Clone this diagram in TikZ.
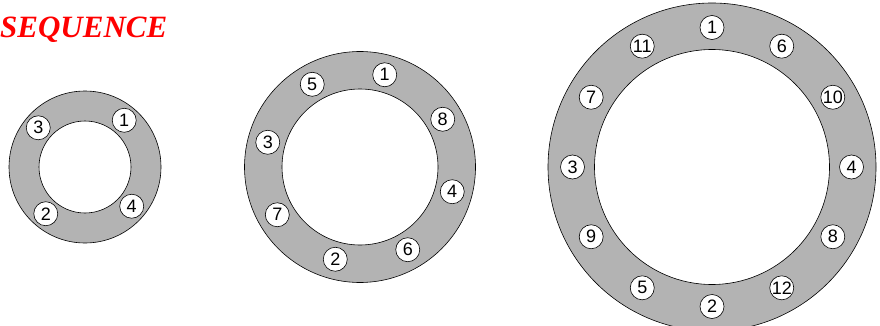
\documentclass[tikz,border=0pt]{standalone}
\usepackage{fontspec}
\setmainfont{Liberation Serif}
\newfontfamily\lsans{Liberation Sans}
\definecolor{ringgray}{RGB}{179,179,179}
\definecolor{titlered}{RGB}{255,0,0}
\begin{document}
\begin{tikzpicture}[x=1pt,y=1pt,
  ring/.style={fill=ringgray, draw=black, line width=0.6pt, even odd rule},
  num/.style={circle, draw=black, fill=white, line width=0.6pt, minimum size=24pt, inner sep=0pt, font=\lsans\fontsize{18}{18}\selectfont},
  titletext/.style={anchor=base west, inner sep=0pt, text=titlered, font=\fontsize{31}{31}\selectfont\bfseries\itshape}]
\useasboundingbox (0,0) rectangle (880,325);
\clip (0,0) rectangle (880,325);
\node[titletext] (title) at (0,287.7) {SEQUENCE};
% centres
\coordinate (c1) at (85,158);
\coordinate (c2) at (360,158);
\coordinate (c3) at (712,158);
% rings
\draw[ring] (c1) circle (76pt) (c1) circle (46pt);
\draw[ring] (c2) circle (115.5pt) (c2) circle (78pt);
\draw[ring] (c3) circle (164pt) (c3) circle (117.5pt);
% ring 1
\foreach \n/\a in {1/50, 3/140, 2/230, 4/320}
  \node[num] (a\n) at ([shift={(\a:61pt)}]c1) {\n};
% ring 2
\foreach \n/\a in {1/75, 8/30, 4/-15, 6/-60, 2/-105, 7/-150, 3/165, 5/120}
  \node[num] (b\n) at ([shift={(\a:95.5pt)}]c2) {\n};
% ring 3
\foreach \n/\a in {1/90, 6/60, 10/30, 4/0, 8/-30, 12/-60, 2/-90, 5/-120, 9/-150, 3/180, 7/150, 11/120}
  \node[num] (d\n) at ([shift={(\a:139.5pt)}]c3) {\n};
\end{tikzpicture}
\end{document}
